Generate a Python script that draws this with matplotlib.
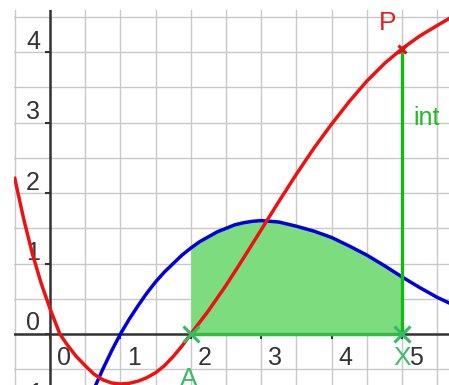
import numpy as np
import matplotlib.pyplot as plt

# values
x_red = [-0.5, -0.375, -0.25, -0.125, 0.0, 0.14, 0.25, 0.375, 0.5, 0.625, 0.75, 0.875, 1.0,
         1.125, 1.25, 1.375, 1.5, 1.625, 1.75, 1.875, 2.0, 2.25, 2.5,
         2.75, 3.0, 3.25, 3.5, 3.75, 4.0, 4.25, 4.5, 4.75, 5.0, 5.25, 5.5, 5.67]
y_red = [2.21, 1.64, 1.14, 0.72, 0.36, 0.0, -0.16, -0.32, -0.45, -0.57, -0.65, -0.695, -0.71,
         -0.70, -0.67, -0.62, -0.55, -0.45, -0.32, -0.17, 0.0, 0.33, 0.69,
         1.08, 1.48, 1.88, 2.27, 2.64, 2.98, 3.30, 3.59, 3.84, 4.05, 4.23, 4.38, 4.48]

x_blue = [0.5, 0.625, 0.75, 0.875, 1.0, 1.125, 1.25, 1.375, 1.5, 1.625, 1.75, 1.875, 2.0,
          2.125, 2.25, 2.375, 2.5, 2.625, 2.75, 2.875, 3.0, 3.25, 3.5,
          3.75, 4.0, 4.25, 4.5, 4.75, 5.0, 5.25, 5.5, 5.67]
y_blue = [-1.1, -0.78, -0.5, -0.24, 0.0, 0.21, 0.4, 0.58, 0.74, 0.88, 1.0, 1.12, 1.22,
          1.31, 1.38, 1.45, 1.5, 1.55, 1.58, 1.60, 1.61, 1.59, 1.53,
          1.46, 1.37, 1.25, 1.12, 0.97, 0.81, 0.66, 0.52, 0.44]

a_x = 2.0      # point A
x_x = 5.0      # point X
p_y = 4.05     # point P = (X, int)

x_ticks = [0, 1, 2, 3, 4, 5]
y_ticks = [-1, 0, 1, 2, 3, 4]

plt.rcParams['font.family'] = ['Liberation Sans', 'DejaVu Sans']

fig = plt.figure(figsize=(4.49, 3.85), dpi=100)
ax = fig.add_axes([14 / 449, 0, 435 / 449, 375 / 385])
ax.set_xlim(-0.511, 5.667)
ax.set_ylim(-0.724, 4.60)

# grid every half unit
ax.set_xticks(np.arange(-0.5, 6.0, 0.5))
ax.set_yticks(np.arange(-0.5, 5.0, 0.5))
ax.grid(True, color='#c8c8c8', lw=1.0)
ax.tick_params(length=0, labelbottom=False, labelleft=False)
for s in ax.spines.values():
    s.set_visible(False)

# axes
ax.axhline(0, color='#333333', lw=1.8, zorder=2)
ax.axvline(0, color='#333333', lw=1.8, zorder=2)
for t in x_ticks:
    ax.plot([t, t], [0, -0.05], color='#333333', lw=1.5, zorder=2)
    ax.text(t + 0.2, -0.34, str(t), fontsize=18, color='#333333', ha='center', va='center', zorder=1)
for t in y_ticks:
    ax.plot([0, -0.05], [t, t], color='#333333', lw=1.5, zorder=2)
    ax.text(-0.24, t + 0.15, str(t), fontsize=18, color='#333333', ha='center', va='center', zorder=1)

# area under the blue curve from A to X
xb = np.array(x_blue)
yb = np.array(y_blue)
m = (xb >= a_x) & (xb <= x_x)
ax.fill_between(xb[m], 0, yb[m], color='#7ddc7d', lw=0, zorder=3)
ax.plot([a_x, x_x], [0, 0], color='#33bb44', lw=2.5, zorder=3)

ax.plot(x_blue, y_blue, color='#0000dd', lw=2.5, zorder=4, solid_joinstyle='round')
ax.plot([x_x, x_x], [0, p_y], color='#11bb11', lw=2.4, zorder=4)
ax.plot(x_red, y_red, color='#ee1111', lw=2.5, zorder=5, solid_joinstyle='round')

# points
ax.plot([a_x, x_x], [0, 0], 'x', color='#33bb66', ms=11, mew=2.2, zorder=6)
ax.plot([x_x], [p_y], 'x', color='#dd1111', ms=6, mew=2.2, zorder=6)

ax.text(a_x - 0.03, -0.64, 'A', fontsize=19, color='#3cbb6a', ha='center', va='center', zorder=6)
ax.text(x_x, -0.34, 'X', fontsize=19, color='#3cbb6a', ha='center', va='center', zorder=6)
ax.text(x_x - 0.21, p_y + 0.36, 'P', fontsize=19, color='#dd2222', ha='center', va='center', zorder=6)
ax.text(x_x + 0.16, 2.97, 'int', fontsize=18, color='#22bb22', ha='left', va='baseline', zorder=6)

plt.savefig('out.png', dpi=100)
